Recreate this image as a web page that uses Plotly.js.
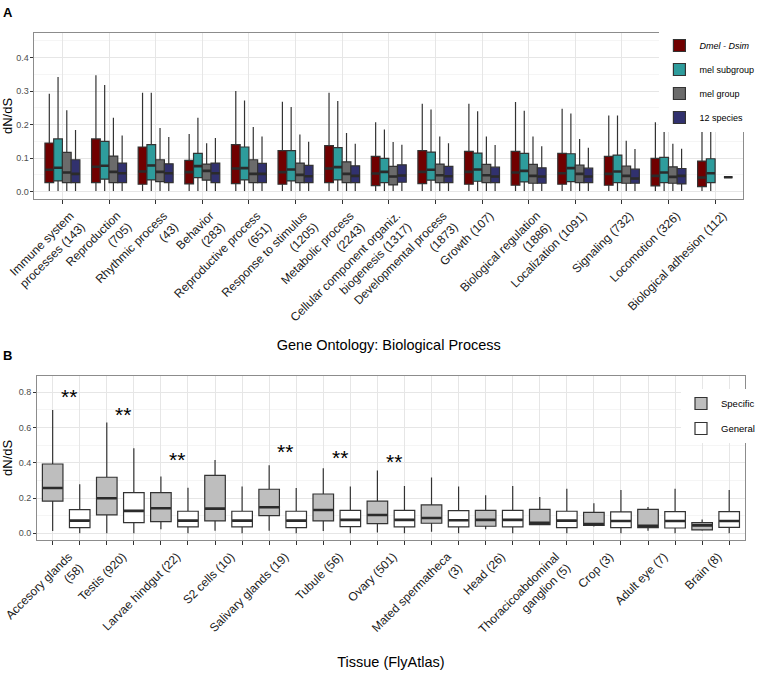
<!DOCTYPE html>
<html><head><meta charset="utf-8">
<script src="https://cdn.plot.ly/plotly-3.0.1.min.js"></script>
<style>html,body{margin:0;padding:0;background:#fff}#chart{width:760px;height:678px}</style>
</head><body><div id="chart"></div>
<script>
// ---------- Panel A data: Gene Ontology categories ----------
const goCategories = [
  'Immune system<br>processes (143)', 'Reproduction<br>(705)', 'Rhythmic process<br>(43)',
  'Behavior<br>(283)', 'Reproductive process<br>(651)', 'Response to stimulus<br>(1205)',
  'Metabolic process<br>(2243)', 'Cellular component organiz.<br>biogenesis (1317)',
  'Developmental process<br>(1873)', 'Growth (107)', 'Biological regulation<br>(1886)',
  'Localization (1091)', 'Signaling (732)', 'Locomotion (326)', 'Biological adhesion (112)'
];
const seriesNames = ['<i>Dmel - Dsim</i>', 'mel subgroup', 'mel group', '12 species'];
// each entry: [lower whisker, Q1, median, Q3, upper whisker]
const dmelDsim = [
  [0.002,0.027,0.065,0.145,0.292],[0.002,0.027,0.074,0.157,0.347],[0.002,0.022,0.060,0.133,0.295],
  [0.002,0.023,0.058,0.093,0.172],[0.002,0.024,0.069,0.140,0.300],[0.002,0.022,0.058,0.122,0.268],
  [0.002,0.027,0.069,0.137,0.295],[0.002,0.018,0.054,0.105,0.207],[0.002,0.024,0.059,0.122,0.262],
  [0.002,0.022,0.059,0.120,0.262],[0.002,0.019,0.057,0.120,0.267],[0.002,0.022,0.055,0.114,0.247],
  [0.002,0.019,0.053,0.105,0.227],[0.002,0.017,0.047,0.099,0.207],[0.002,0.015,0.042,0.091,0.193]
];
const melSubgroup = [
  [0.002,0.032,0.071,0.157,0.342],[0.002,0.037,0.077,0.150,0.318],[0.002,0.035,0.078,0.140,0.295],
  [0.002,0.042,0.076,0.114,0.220],[0.002,0.035,0.070,0.133,0.272],[0.002,0.032,0.066,0.122,0.252],
  [0.002,0.035,0.073,0.131,0.270],[0.002,0.027,0.059,0.099,0.185],[0.002,0.034,0.065,0.118,0.245],
  [0.002,0.031,0.066,0.115,0.240],[0.002,0.029,0.062,0.114,0.241],[0.002,0.030,0.070,0.113,0.233],
  [0.002,0.027,0.060,0.109,0.227],[0.002,0.027,0.057,0.102,0.207],[0.002,0.027,0.055,0.098,0.193]
];
const melGroup = [
  [0.002,0.027,0.057,0.117,0.243],[0.002,0.027,0.059,0.106,0.220],[0.002,0.030,0.059,0.095,0.190],
  [0.002,0.034,0.062,0.082,0.144],[0.002,0.027,0.053,0.095,0.193],[0.002,0.027,0.050,0.085,0.170],
  [0.002,0.027,0.053,0.089,0.175],[0.002,0.020,0.045,0.075,0.148],[0.002,0.027,0.049,0.082,0.164],
  [0.002,0.027,0.049,0.081,0.164],[0.002,0.025,0.047,0.081,0.164],[0.002,0.027,0.053,0.079,0.157],
  [0.002,0.025,0.047,0.076,0.152],[0.002,0.025,0.044,0.074,0.143],null
];
const species12 = [
  [0.002,0.027,0.053,0.095,0.184],[0.002,0.027,0.055,0.085,0.167],[0.002,0.027,0.055,0.083,0.163],
  [0.002,0.027,0.055,0.085,0.160],[0.002,0.027,0.053,0.084,0.164],[0.002,0.027,0.046,0.078,0.149],
  [0.002,0.027,0.047,0.077,0.143],[0.002,0.028,0.048,0.080,0.140],[0.002,0.027,0.046,0.075,0.144],
  [0.002,0.027,0.045,0.073,0.139],[0.002,0.025,0.045,0.071,0.135],[0.002,0.027,0.045,0.070,0.131],
  [0.002,0.025,0.039,0.067,0.127],[0.002,0.023,0.047,0.069,0.128],[0.043,0.043,0.043,0.043,0.043]
];

// ---------- Panel B data: FlyAtlas tissues ----------
const tissues = [
  'Accesory glands<br>(58)', 'Testis (920)', 'Larvae hindgut (22)', 'S2 cells (10)',
  'Salivary glands (19)', 'Tubule (56)', 'Ovary (501)', 'Mated spermatheca<br>(3)', 'Head (26)',
  'Thoracicoabdominal<br>ganglion (5)', 'Crop (3)', 'Adult eye (7)', 'Brain (8)'
];
const specificStats = [
  [0.013,0.183,0.257,0.393,0.700],[0.000,0.104,0.199,0.318,0.628],[0.023,0.066,0.142,0.231,0.322],
  [0.015,0.070,0.140,0.329,0.416],[0.015,0.100,0.148,0.250,0.386],[0.013,0.070,0.132,0.223,0.369],
  [0.004,0.055,0.104,0.182,0.356],[0.009,0.057,0.087,0.161,0.316],[0.023,0.040,0.076,0.130,0.216],
  [0.046,0.049,0.059,0.136,0.206],[0.038,0.045,0.053,0.119,0.170],[0.015,0.032,0.043,0.136,0.149],
  [0.015,0.019,0.045,0.061,0.078]
];
const generalStats = [
  [0.0,0.032,0.072,0.134,0.278],[0.0,0.061,0.127,0.231,0.482],[0.0,0.036,0.072,0.125,0.259],
  [0.0,0.036,0.072,0.125,0.265],[0.0,0.032,0.072,0.125,0.257],[0.0,0.038,0.076,0.130,0.265],
  [0.0,0.036,0.076,0.130,0.269],[0.0,0.036,0.074,0.129,0.265],[0.0,0.036,0.076,0.130,0.269],
  [0.0,0.032,0.072,0.125,0.253],[0.0,0.032,0.070,0.121,0.246],[0.0,0.030,0.070,0.123,0.253],
  [0.0,0.034,0.070,0.123,0.246]
];
// height (dN/dS) of the "**" significance marks; null = not significant
const signifY = [0.79, 0.685, 0.43, null, 0.477, 0.444, 0.42, null, null, null, null, null, null];

// ---------- helpers ----------
const W = 760, H = 678;
const fx = p => p / W, fy = p => 1 - p / H;
const FONT = 'Liberation Sans, Arial, Helvetica, sans-serif';
const LINE = '#333333';
const GRID = '#e6e6e6', GRIDMINOR = '#f5f5f5';

function keepIdx(stats) { return stats.map((s, i) => s ? i : -1).filter(i => i >= 0); }

function boxTrace(stats, positions, name, fill, width, xa, ya, legend, group) {
  const idx = keepIdx(stats);
  return {
    type: 'box', name: name, xaxis: xa, yaxis: ya, legend: legend, legendgroup: group,
    x: idx.map(i => positions[i]),
    lowerfence: idx.map(i => stats[i][0]), q1: idx.map(i => stats[i][1]),
    median: idx.map(i => stats[i][2]), q3: idx.map(i => stats[i][3]),
    upperfence: idx.map(i => stats[i][4]),
    width: width, whiskerwidth: 0, boxpoints: false,
    fillcolor: fill, line: {color: LINE, width: 1.2},
    hoverinfo: 'skip'
  };
}
// thicker median bar, drawn as a flat box at the median value
function medianTrace(stats, positions, width, xa, ya) {
  const idx = keepIdx(stats);
  const med = idx.map(i => stats[i][2]);
  return {
    type: 'box', xaxis: xa, yaxis: ya, showlegend: false,
    x: idx.map(i => positions[i]),
    lowerfence: med, q1: med, median: med, q3: med, upperfence: med,
    width: width * 0.97, whiskerwidth: 0, boxpoints: false,
    fillcolor: 'rgba(0,0,0,0)', line: {color: '#2b2b2b', width: 2.6},
    hoverinfo: 'skip'
  };
}

// Panel A: dodge 4 series inside each category
const seriesData = [dmelDsim, melSubgroup, melGroup, species12];
const seriesColors = ['#700000', '#2e9c9c', '#6b6b6b', '#31316e'];
const dodgeW = 0.75, bwA = dodgeW / seriesData.length;
const traces = [];
const medTraces = [];
seriesData.forEach((d, k) => {
  const pos = goCategories.map((_, i) => i + (k - (seriesData.length - 1) / 2) * bwA);
  traces.push(boxTrace(d, pos, seriesNames[k], seriesColors[k], bwA, 'x', 'y', 'legend', 'a' + k));
  medTraces.push(medianTrace(d, pos, bwA, 'x', 'y'));
});

// Panel B: each tissue has a Specific and a General box at consecutive slots
const specPos = tissues.map((_, i) => 2 * i);
const genPos = tissues.map((_, i) => 2 * i + 1);
traces.push(boxTrace(specificStats, specPos, 'Specific', '#bebebe', 0.76, 'x2', 'y2', 'legend2', 'b0'));
traces.push(boxTrace(generalStats, genPos, 'General', '#ffffff', 0.76, 'x2', 'y2', 'legend2', 'b1'));
medTraces.push(medianTrace(specificStats, specPos, 0.76, 'x2', 'y2'));
medTraces.push(medianTrace(generalStats, genPos, 0.76, 'x2', 'y2'));

const tickValsB = tissues.flatMap((_, i) => [2 * i, 2 * i + 1]);
const tickTextB = tissues.flatMap(t => [t, '']);

const annotations = [
  {text: '<b>A</b>', xref: 'paper', yref: 'paper', x: fx(8), y: fy(12.5), showarrow: false,
   font: {family: FONT, size: 13, color: '#000'}, xanchor: 'center', yanchor: 'middle'},
  {text: '<b>B</b>', xref: 'paper', yref: 'paper', x: fx(8), y: fy(355), showarrow: false,
   font: {family: FONT, size: 13, color: '#000'}, xanchor: 'center', yanchor: 'middle'}
];
signifY.forEach((v, i) => {
  if (v === null) return;
  annotations.push({text: '**', xref: 'x2', yref: 'y2', x: 2 * i + 0.6, y: v, showarrow: false,
    font: {family: FONT, size: 21, color: '#000'}, xanchor: 'center', yanchor: 'middle', yshift: -2});
});

const axisCommon = {
  showline: true, mirror: true, linecolor: '#8c8c8c', linewidth: 1,
  ticks: 'outside', tickcolor: LINE, tickwidth: 1, zeroline: false, automargin: false,
  gridcolor: GRID, gridwidth: 1
};

const layout = {
  width: W, height: H, margin: {l: 0, r: 0, t: 0, b: 0},
  paper_bgcolor: '#fff', plot_bgcolor: '#fff', showlegend: true, boxmode: 'overlay',
  font: {family: FONT, color: '#1a1a1a'},
  xaxis: Object.assign({}, axisCommon, {
    domain: [fx(35), fx(755)], anchor: 'y', range: [-0.6, 14.6],
    tickmode: 'array', tickvals: goCategories.map((_, i) => i), ticktext: goCategories,
    tickangle: -45, ticklen: 4, ticklabelshift: 8, showgrid: true,
    tickfont: {family: FONT, size: 12, color: '#1a1a1a'},
    title: {text: 'Gene Ontology: Biological Process', font: {family: FONT, size: 14.5, color: '#000'}, standoff: 5}
  }),
  yaxis: Object.assign({}, axisCommon, {
    domain: [fy(199), fy(33)], anchor: 'x', range: [-0.022, 0.473],
    tick0: 0, dtick: 0.1, tickformat: '.1f', ticklen: 3, showgrid: true,
    tickfont: {family: FONT, size: 9, color: '#4d4d4d'},
    minor: {dtick: 0.05, showgrid: true, gridcolor: GRIDMINOR, ticks: ''},
    title: {text: 'dN/dS', font: {family: FONT, size: 13, color: '#000'}, standoff: 4}
  }),
  xaxis2: Object.assign({}, axisCommon, {
    domain: [fx(37.7), fx(756.7)], anchor: 'y2', range: [-0.575, 25.575],
    tickmode: 'array', tickvals: tickValsB, ticktext: tickTextB,
    tickangle: -45, ticklen: 4, ticklabelshift: 16, showgrid: true,
    tickfont: {family: FONT, size: 12, color: '#1a1a1a'},
    title: {text: 'Tissue (FlyAtlas)', font: {family: FONT, size: 14.5, color: '#000'}, standoff: 10}
  }),
  yaxis2: Object.assign({}, axisCommon, {
    domain: [fy(540), fy(375.7)], anchor: 'x2', range: [-0.038, 0.894],
    tick0: 0, dtick: 0.2, tickformat: '.1f', ticklen: 3, showgrid: true,
    tickfont: {family: FONT, size: 9, color: '#4d4d4d'},
    minor: {dtick: 0.1, showgrid: true, gridcolor: GRIDMINOR, ticks: ''},
    title: {text: 'dN/dS', font: {family: FONT, size: 13, color: '#000'}, standoff: 4}
  }),
  legend: {
    x: fx(670), y: fy(31), xanchor: 'left', yanchor: 'top', bgcolor: '#ffffff',
    font: {family: FONT, size: 9, color: '#000'},
    traceorder: 'grouped', tracegroupgap: 5, itemwidth: 30
  },
  legend2: {
    x: fx(692), y: fy(389), xanchor: 'left', yanchor: 'top', bgcolor: '#ffffff',
    font: {family: FONT, size: 9.5, color: '#000'},
    traceorder: 'grouped', tracegroupgap: 6, itemwidth: 30
  },
  annotations: annotations
};

Plotly.newPlot('chart', traces.concat(medTraces), layout, {staticPlot: true, displayModeBar: false});
</script>
</body></html>
